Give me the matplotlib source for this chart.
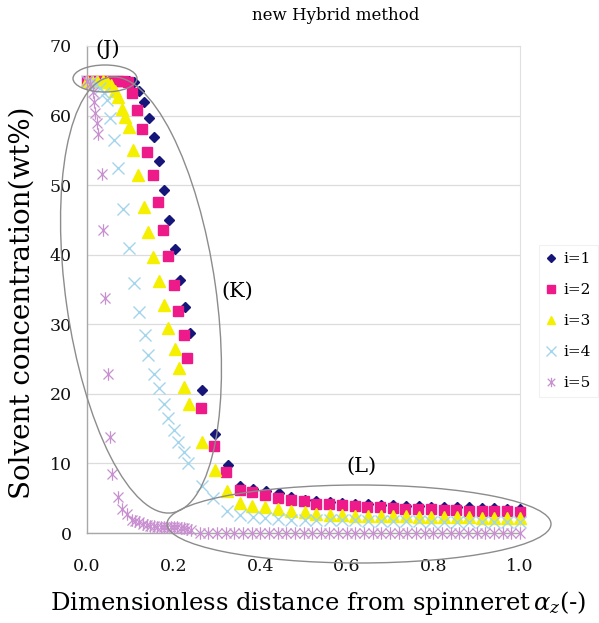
import matplotlib
matplotlib.use('Agg')
import matplotlib.pyplot as plt
from matplotlib.patches import Ellipse
from matplotlib.path import Path
from matplotlib.transforms import Affine2D

W, H, DPI = 599, 623, 100

# ---------------- data ----------------
x1 = [0.000, 0.012, 0.024, 0.036, 0.048, 0.060, 0.072, 0.084, 0.096,
      0.108, 0.120, 0.132, 0.143, 0.155, 0.167, 0.178, 0.190, 0.203, 0.215, 0.227, 0.238, 0.266,
      0.296, 0.326, 0.354, 0.383, 0.414, 0.443, 0.471, 0.503, 0.530, 0.561,
      0.590, 0.620, 0.649, 0.678, 0.707, 0.737, 0.766, 0.795, 0.824, 0.854, 0.883, 0.912, 0.941, 0.971, 1.000]
y1 = [65.0, 65.0, 65.0, 65.0, 65.0, 65.0, 65.0, 65.0, 65.0,
      64.8, 63.6, 62.0, 59.7, 56.9, 53.5, 49.3, 45.0, 40.8, 36.4, 32.5, 28.7, 20.5,
      14.3, 9.8, 6.8, 6.3, 6.1, 5.8, 5.2, 4.8, 4.6, 4.4,
      4.3, 4.2, 4.1, 4.0, 4.0, 3.9, 3.9, 3.8, 3.8, 3.7, 3.7, 3.6, 3.6, 3.5, 3.5]

x2 = [0.000, 0.012, 0.024, 0.036, 0.048, 0.060, 0.072, 0.084,
      0.094, 0.103, 0.115, 0.126, 0.138, 0.152, 0.165, 0.175, 0.188, 0.201, 0.210, 0.223, 0.232, 0.263,
      0.294, 0.322, 0.354, 0.380, 0.411, 0.441, 0.470, 0.500, 0.528, 0.559,
      0.588, 0.618, 0.647, 0.676, 0.706, 0.735, 0.765, 0.794, 0.824, 0.853, 0.882, 0.912, 0.941, 0.971, 1.000]
y2 = [65.0, 65.0, 65.0, 65.0, 65.0, 65.0, 65.0, 65.0,
      64.8, 63.2, 60.8, 58.0, 54.8, 51.4, 47.6, 43.5, 39.8, 35.7, 31.9, 28.4, 25.2, 17.9,
      12.5, 8.8, 6.2, 5.85, 5.5, 5.1, 4.8, 4.6, 4.2, 4.1,
      4.0, 3.9, 3.8, 3.7, 3.6, 3.5, 3.4, 3.4, 3.3, 3.3, 3.2, 3.2, 3.1, 3.1, 3.0]

x3 = [0.000, 0.012, 0.024, 0.036, 0.046, 0.055, 0.064, 0.072, 0.080, 0.088, 0.097, 0.106, 0.117,
      0.132, 0.140, 0.153, 0.167, 0.177, 0.188, 0.204, 0.213, 0.225, 0.235,
      0.265, 0.296, 0.323, 0.354, 0.381, 0.412, 0.441, 0.471, 0.503, 0.530, 0.561,
      0.590, 0.620, 0.649, 0.678, 0.707, 0.737, 0.766, 0.795, 0.824, 0.854, 0.883, 0.912, 0.941, 0.971, 1.000]
y3 = [65.0, 65.0, 65.0, 65.0, 64.8, 64.4, 63.6, 62.7, 61.0, 59.8, 58.4, 55.0, 51.4,
      46.9, 43.3, 39.6, 36.2, 32.8, 29.4, 26.5, 23.7, 21.0, 18.5,
      13.1, 9.05, 6.1, 4.3, 3.9, 3.7, 3.4, 3.1, 2.95, 2.8, 2.6,
      2.55, 2.5, 2.5, 2.45, 2.4, 2.4, 2.35, 2.3, 2.3, 2.25, 2.25, 2.2, 2.2, 2.2, 2.2]

x4 = [0.000, 0.010, 0.020, 0.030, 0.040, 0.046, 0.053, 0.062, 0.072, 0.084, 0.096, 0.109, 0.119,
      0.134, 0.140, 0.155, 0.167, 0.177, 0.188, 0.200, 0.211, 0.225, 0.234,
      0.265, 0.292, 0.323, 0.354, 0.383, 0.412, 0.441, 0.471, 0.503, 0.530, 0.561,
      0.590, 0.620, 0.649, 0.678, 0.707, 0.737, 0.766, 0.795, 0.824, 0.854, 0.883, 0.912, 0.941, 0.971, 1.000]
y4 = [65.0, 64.8, 64.5, 64.0, 63.2, 62.2, 59.6, 56.5, 52.5, 46.5, 40.9, 35.9, 31.8,
      28.4, 25.6, 22.9, 20.9, 18.6, 16.5, 14.8, 13.1, 11.7, 10.0,
      6.75, 5.0, 3.1, 2.6, 2.3, 2.1, 2.0, 1.9, 1.9, 1.8, 1.8,
      1.8, 1.8, 1.7, 1.7, 1.7, 1.7, 1.7, 1.6, 1.6, 1.6, 1.6, 1.6, 1.6, 1.6, 1.6]

x5 = [0.000, 0.008, 0.013, 0.016, 0.019, 0.022, 0.025, 0.034, 0.037, 0.042, 0.049, 0.053, 0.058,
      0.072, 0.080, 0.092, 0.103, 0.111, 0.119, 0.130, 0.138, 0.146, 0.154, 0.162, 0.170, 0.177,
      0.185, 0.193, 0.200, 0.208, 0.216, 0.224, 0.232, 0.240,
      0.26, 0.28, 0.30, 0.32, 0.34, 0.36, 0.38, 0.40, 0.42, 0.44, 0.46, 0.48, 0.50, 0.52, 0.54,
      0.56, 0.58, 0.60, 0.62, 0.64, 0.66, 0.68, 0.70, 0.72, 0.74, 0.76, 0.78, 0.80, 0.82, 0.84,
      0.86, 0.88, 0.90, 0.92, 0.94, 0.96, 0.98, 1.00]
y5 = [65.0, 64.5, 63.4, 62.0, 60.3, 58.9, 57.4, 51.6, 43.5, 33.8, 22.8, 13.8, 8.5,
      5.2, 3.5, 2.8, 1.9, 1.7, 1.6, 1.3, 1.2, 1.05, 1.0, 0.9, 0.9, 0.9,
      0.8, 0.8, 0.8, 0.8, 0.7, 0.7, 0.6, 0.5,
      0.0, 0.0, 0.0, 0.0, 0.0, 0.0, 0.0, 0.0, 0.0, 0.0, 0.0, 0.0, 0.0, 0.0, 0.0,
      0.0, 0.0, 0.0, 0.0, 0.0, 0.0, 0.0, 0.0, 0.0, 0.0, 0.0, 0.0, 0.0, 0.0, 0.0,
      0.0, 0.0, 0.0, 0.0, 0.0, 0.0, 0.0, 0.0]

series_labels = ['i=1', 'i=2', 'i=3', 'i=4', 'i=5']
y_ticks = [0, 10, 20, 30, 40, 50, 60, 70]
x_ticks = [0.0, 0.2, 0.4, 0.6, 0.8, 1.0]
x_tick_labels = ['0.0', '0.2', '0.4', '0.6', '0.8', '1.0']

# ---------------- style ----------------
plt.rcParams['font.family'] = ['DejaVu Serif']
plt.rcParams['mathtext.fontset'] = 'dejavuserif'

fig = plt.figure(figsize=(W / DPI, H / DPI), dpi=DPI)
fig.patch.set_facecolor('white')
ax = fig.add_axes([87 / W, 1 - 533 / H, (520 - 87) / W, (533 - 46) / H])

ax.set_xlim(0, 1.0)
ax.set_ylim(0, 70)
ax.set_yticks(y_ticks)
ax.set_xticks(x_ticks)
ax.set_xticklabels(x_tick_labels)
ax.tick_params(axis='both', length=0, colors='#111111')
ax.tick_params(axis='x', pad=18, labelsize=12.5)
ax.tick_params(axis='y', pad=11, labelsize=12.5)
ax.grid(axis='y', color='#dcdcdc', lw=0.9)
ax.set_axisbelow(True)
for s in ['left', 'bottom']:
    ax.spines[s].set_color('#a8a8a8')
    ax.spines[s].set_linewidth(1.0)
ax.spines['right'].set_color('#e0e0e0')
ax.spines['top'].set_color('#dcdcdc')

star = Path([(-1, -1), (1, 1), (-1, 1), (1, -1), (0, -1.25), (0, 1.25)],
            [Path.MOVETO, Path.LINETO, Path.MOVETO, Path.LINETO, Path.MOVETO, Path.LINETO])

styles = [
    dict(marker='D', ms=5.6, color='#16167a', mec='#16167a'),
    dict(marker='s', ms=7.0, color='#ee1a8a', mec='#ee1a8a'),
    dict(marker='^', ms=8.0, color='#f4f000', mec='#f4f000'),
    dict(marker='x', ms=9.0, color='#a3d6ec', mew=1.0),
    dict(marker=star, ms=9.0, color='#c890d0', mew=0.9, mfc='none'),
]
xs = [x1, x2, x3, x4, x5]
ys = [y1, y2, y3, y4, y5]
for i, (xx, yy) in enumerate(zip(xs, ys)):
    ax.plot(xx, yy, ls='none', label=series_labels[i], clip_on=False,
            zorder=3 + i, **styles[i])

leg = fig.legend(loc='upper left', bbox_to_anchor=(539 / W, 1 - 245 / H),
                 bbox_transform=fig.transFigure, fontsize=11, frameon=True,
                 handlelength=0.7, handletextpad=0.45, labelspacing=1.12,
                 borderpad=0.45, borderaxespad=0, markerscale=0.75, fancybox=False)
leg.get_frame().set_edgecolor('#eeeeee')
leg.get_frame().set_linewidth(0.8)

# pixel transform (top-left origin)
pix = Affine2D().scale(1 / DPI, -1 / DPI).translate(0, H / DPI) + fig.dpi_scale_trans

ell_kw = dict(fill=False, edgecolor='#8c8c8c', lw=1.0, transform=pix, zorder=10)
fig.add_artist(Ellipse((105, 78.5), 64, 27, angle=0, **ell_kw))
fig.add_artist(Ellipse((141, 295), 440, 150, angle=81.9, **ell_kw))
fig.add_artist(Ellipse((359, 524), 384, 78, angle=0, **ell_kw))

fig.text(108, 49, '(J)', transform=pix, ha='center', va='center', fontsize=15)
fig.text(237, 291, '(K)', transform=pix, ha='center', va='center', fontsize=15)
fig.text(361, 466, '(L)', transform=pix, ha='center', va='center', fontsize=15)

fig.text(336, 15, 'new Hybrid method', transform=pix, ha='center', va='center', fontsize=12)
fig.text(22, 303, 'Solvent concentration(wt%)', transform=pix, ha='center', va='center',
         rotation=90, fontsize=20)
fig.text(318, 603, r'Dimensionless distance from spinneret$\,\alpha_{z}$(-)', transform=pix,
         ha='center', va='center', fontsize=17.5)

fig.savefig('out.png', dpi=DPI, facecolor='white')
